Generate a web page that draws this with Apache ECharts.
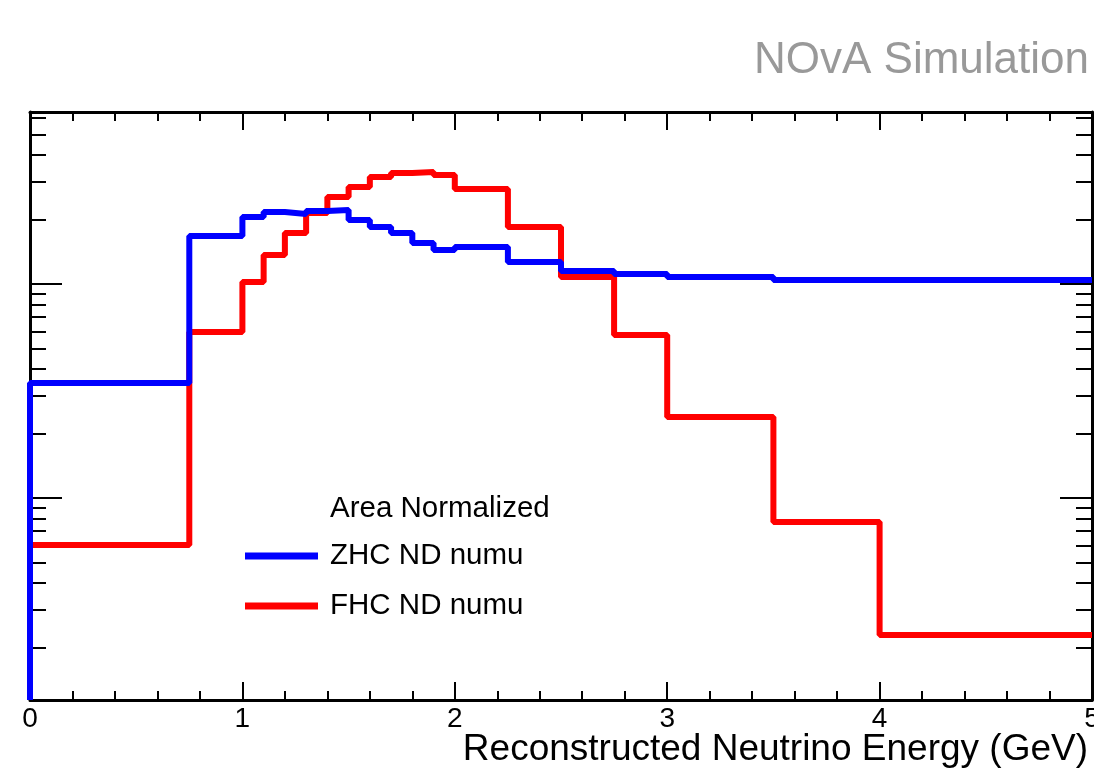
<!DOCTYPE html>
<html>
<head>
<meta charset="utf-8">
<script src="https://cdn.jsdelivr.net/npm/echarts@6/dist/echarts.min.js"></script>
<style>
  html, body { margin: 0; padding: 0; background: #fff; }
  #main { width: 1094px; height: 773px; }
</style>
</head>
<body>
<div id="main"></div>
<script>
// bin edges (GeV) and area-normalized contents per bin
var binEdges = [0, 0.75, 1.0, 1.1, 1.2, 1.3, 1.4, 1.5, 1.6, 1.7, 1.8, 1.9, 2.0, 2.25, 2.5, 2.75, 3.0, 3.5, 4.0, 5.0];
var zhcValues = [0.0345, 0.1676, 0.2056, 0.2170, 0.2124, 0.2193, 0.2217, 0.1991, 0.1846, 0.1731, 0.1554, 0.1442, 0.1489, 0.1267, 0.1150, 0.1114, 0.1078, 0.1044, 0.1044];
var fhcValues = [0.00603, 0.0597, 0.1022, 0.1366, 0.1731, 0.2147, 0.2550, 0.2840, 0.3162, 0.3302, 0.3337, 0.3231, 0.2780, 0.1846, 0.1078, 0.0578, 0.0239, 0.00772, 0.00229];
var yMin = 0.001138, yMax = 0.637;
var yMajorTicks = [0.01, 0.1];
var yMinorTicks = [0.002, 0.003, 0.004, 0.005, 0.006, 0.007, 0.008, 0.009,
                   0.02, 0.03, 0.04, 0.05, 0.06, 0.07, 0.08, 0.09,
                   0.2, 0.3, 0.4, 0.5, 0.6];

var font = '"Liberation Sans", Arial, Helvetica, sans-serif';

function histPoints(vals) {
    var pts = [[binEdges[0], yMin]];
    for (var i = 0; i < vals.length; i++) {
        pts.push([binEdges[i], vals[i]]);
    }
    pts.push([binEdges[binEdges.length - 1], vals[vals.length - 1]]);
    return pts;
}

function yAx(pos, ticks, len, line) {
    return {
        type: 'log',
        position: pos,
        min: yMin,
        max: yMax,
        axisLine: { show: line, lineStyle: { color: '#000', width: 3 } },
        axisTick: { show: true, inside: true, length: len, customValues: ticks,
                    lineStyle: { color: '#000', width: 2 } },
        axisLabel: { show: false },
        splitLine: { show: false }
    };
}

function xAx(pos, labels) {
    return {
        type: 'value',
        position: pos,
        min: 0,
        max: 5,
        interval: 1,
        axisLine: { show: true, onZero: false, lineStyle: { color: '#000', width: 3 } },
        axisTick: { show: true, inside: true, length: 18, lineStyle: { color: '#000', width: 2 } },
        minorTick: { show: true, splitNumber: 5, length: 9, lineStyle: { color: '#000', width: 2 } },
        axisLabel: { show: labels, color: '#000', fontSize: 28, fontFamily: font, margin: 5 },
        splitLine: { show: false },
        minorSplitLine: { show: false }
    };
}

var chart = echarts.init(document.getElementById('main'));

chart.setOption({
    animation: false,
    backgroundColor: '#fff',
    grid: { left: 30, right: 2, top: 112, bottom: 73, outerBoundsMode: 'none' },
    title: {
        text: 'NOvA Simulation',
        right: 0,
        top: 34,
        textStyle: { color: '#999', fontSize: 44, fontWeight: 'normal', fontFamily: font }
    },
    legend: {
        orient: 'vertical',
        left: 245,
        top: 541,
        padding: 0,
        itemWidth: 73,
        itemHeight: 7,
        itemGap: 20,
        icon: 'rect',
        data: ['ZHC ND numu', 'FHC ND numu'],
        textStyle: { color: '#000', fontSize: 29.5, fontFamily: font, lineHeight: 28, padding: [0, 0, 0, 7] }
    },
    graphic: [{
        type: 'text',
        left: 330,
        top: 494,
        style: { text: 'Area Normalized', fill: '#000', fontSize: 29.5, fontFamily: font }
    }, {
        type: 'text',
        right: 6,
        top: 731,
        style: { text: 'Reconstructed Neutrino Energy (GeV)', fill: '#000', fontSize: 37, fontFamily: font }
    }],
    xAxis: [xAx('bottom', true), xAx('top', false)],
    yAxis: [
        yAx('left', yMajorTicks, 32, true),
        yAx('left', yMinorTicks, 16, false),
        yAx('right', yMajorTicks, 32, true),
        yAx('right', yMinorTicks, 16, false)
    ],
    series: [
        {
            name: 'FHC ND numu',
            type: 'line',
            step: 'end',
            symbol: 'none',
            color: '#ff0000',
            lineStyle: { color: '#ff0000', width: 6 },
            data: histPoints(fhcValues),
            z: 2
        },
        {
            name: 'ZHC ND numu',
            type: 'line',
            step: 'end',
            symbol: 'none',
            color: '#0000ff',
            lineStyle: { color: '#0000ff', width: 6 },
            data: histPoints(zhcValues),
            z: 3
        }
    ]
});
</script>
</body>
</html>
